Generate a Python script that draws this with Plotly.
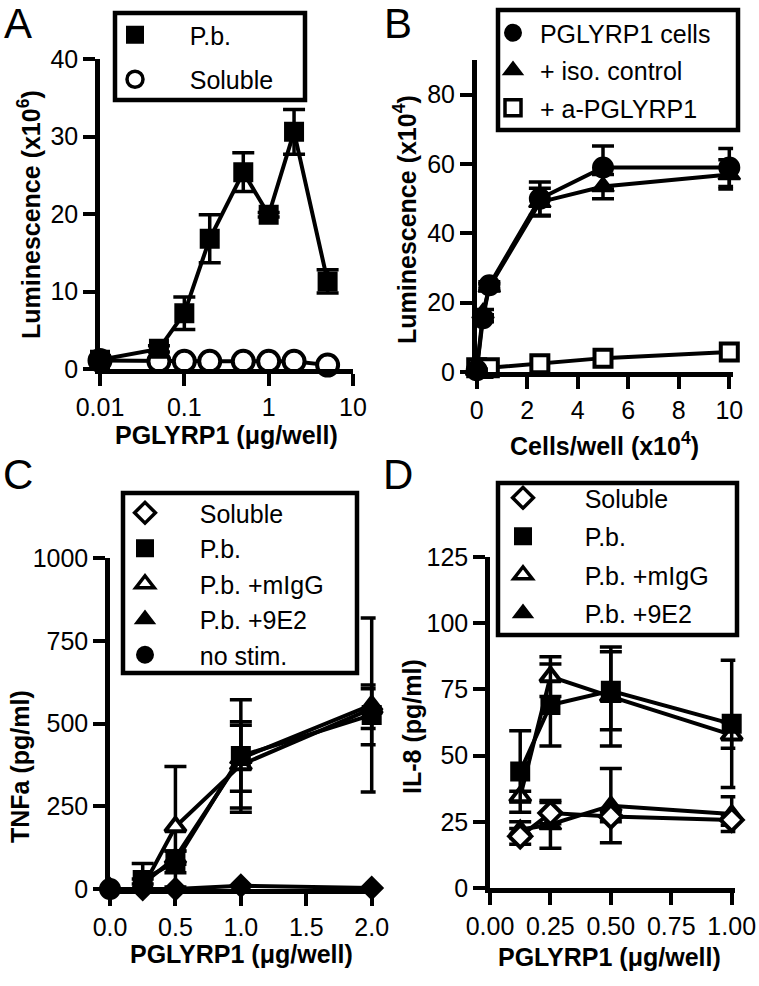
import plotly.graph_objects as go

W, H = 759, 986

# ---------------- data ----------------
# Panel A
a_x = [0.01, 0.05, 0.1, 0.2, 0.5, 1, 2, 5]
a_pb = [1.2, 2.6, 7.2, 16.8, 25.4, 19.9, 30.6, 11.3]
a_pb_err = [0.5, 0.4, 2.1, 3.1, 2.5, 0.3, 2.9, 1.5]
a_sol = [1.1, 1.0, 1.0, 1.0, 1.0, 1.0, 1.0, 0.5]

# Panel B
b_x = [0, 0.25, 0.5, 2.5, 5, 10]
b_cells = [0.5, 15.5, 25.0, 50.0, 59.0, 59.0]
b_cells_err = [0.3, 1.0, 1.0, 4.8, 6.2, 5.5]
b_iso = [0.5, 17.0, 24.5, 49.0, 53.5, 57.0]
b_iso_err = [0.3, 1.0, 1.0, 4.0, 3.5, 4.2]
b_anti = [1.2, 1.0, 1.2, 2.4, 4.0, 5.8]

# Panel C
c_x = [0, 0.25, 0.5, 1, 2]
c_sol = [0, 0, 0, 10, 3]
c_pb_x = [0.25, 0.5, 1, 2]
c_pb = [27, 82, 402, 526]
c_pb_err = [50, 33, 170, 90]
c_migg = [5, 188, 375, 545]
c_migg_err = [10, 182, 130, 60]
c_9e2 = [15, 95, 395, 556]
c_9e2_err = [15, 20, 100, 263]
c_nostim_x = [0]
c_nostim = [0]

# Panel D
d_x = [0.125, 0.25, 0.5, 1.0]
d_sol = [19.5, 28.3, 27.0, 25.7]
d_sol_err = [3, 4, 2, 2]
d_pb = [44.0, 69.1, 74.5, 62.0]
d_pb_err = [15.4, 15.5, 14.7, 24.0]
d_migg = [34.5, 79.8, 72.3, 57.8]
d_migg_err = [2.0, 7.5, 18.7, 5.0]
d_9e2 = [22.0, 24.0, 31.1, 27.9]
d_9e2_err = [3.0, 9.0, 14.0, 6.6]

FONT = "Liberation Sans, Arial, Helvetica, sans-serif"
LW = 4
NB = "\u00a0"

fig = go.Figure()


def err(arr):
    return dict(type="data", array=arr, visible=True, color="black", thickness=3.5, width=11)


def line_trace(x, y, xa, ya, symbol, size, filled, e=None):
    return go.Scatter(
        x=x, y=y, xaxis=xa, yaxis=ya, mode="lines+markers",
        line=dict(color="black", width=LW),
        marker=dict(symbol=symbol, size=size,
                    color="black" if filled else "white",
                    line=dict(color="black", width=2 if filled else 4)),
        error_y=err(e) if e is not None else None,
        cliponaxis=False, showlegend=False, hoverinfo="skip",
    )


def legend_entry(name, legend, symbol, size, filled, group=None):
    return go.Scatter(
        x=[None], y=[None], mode="markers", name=name, legend=legend,
        legendgroup=group,
        marker=dict(symbol=symbol, size=size,
                    color="black" if filled else "white",
                    line=dict(color="black", width=2 if filled else 3.5)),
        showlegend=True,
    )


# Panel A traces
fig.add_trace(line_trace(a_x, a_sol, "x", "y", "circle", 21, False))
fig.add_trace(line_trace(a_x, a_pb, "x", "y", "square", 18, True, a_pb_err))
# Panel B traces
fig.add_trace(line_trace(b_x, b_anti, "x2", "y2", "square", 17, False))
fig.add_trace(line_trace(b_x, b_iso, "x2", "y2", "triangle-up", 19, True, b_iso_err))
fig.add_trace(line_trace(b_x, b_cells, "x2", "y2", "circle", 20, True, b_cells_err))
# Panel C traces
fig.add_trace(line_trace(c_x, c_sol, "x3", "y3", "diamond", 17, True))
fig.add_trace(line_trace(c_pb_x, c_migg, "x3", "y3", "triangle-up", 18, False, c_migg_err))
fig.add_trace(line_trace(c_pb_x, c_pb, "x3", "y3", "square", 18, True, c_pb_err))
fig.add_trace(line_trace(c_pb_x, c_9e2, "x3", "y3", "triangle-up", 19, True, c_9e2_err))
fig.add_trace(line_trace(c_nostim_x, c_nostim, "x3", "y3", "circle", 20, True))
# Panel D traces
fig.add_trace(line_trace(d_x, d_9e2, "x4", "y4", "triangle-up", 19, True, d_9e2_err))
fig.add_trace(line_trace(d_x, d_sol, "x4", "y4", "diamond", 17, False, d_sol_err))
fig.add_trace(line_trace(d_x, d_migg, "x4", "y4", "triangle-up", 18, False, d_migg_err))
fig.add_trace(line_trace(d_x, d_pb, "x4", "y4", "square", 18, True, d_pb_err))

# Legends
gapA = NB * 5
fig.add_trace(legend_entry(gapA + "P.b.", "legend", "square", 16, True, "a1"))
fig.add_trace(legend_entry(gapA + "Soluble", "legend", "circle", 16, False, "a2"))

gapB = NB
fig.add_trace(legend_entry(gapB + "PGLYRP1 cells", "legend2", "circle", 16, True, "b1"))
fig.add_trace(legend_entry(gapB + "+ iso. control", "legend2", "triangle-up", 16, True, "b2"))
fig.add_trace(legend_entry(gapB + "+ a-PGLYRP1", "legend2", "square", 16, False, "b3"))

gapC = NB * 5
for nm, sym, fill in [("Soluble", "diamond", False), ("P.b.", "square", True),
                      ("P.b. +mIgG", "triangle-up", False), ("P.b. +9E2", "triangle-up", True),
                      ("no stim.", "circle", True)]:
    fig.add_trace(legend_entry(gapC + nm, "legend3", sym, 16, fill))
gapD = NB * 6
for i, (nm, sym, fill) in enumerate([("Soluble", "diamond", False), ("P.b.", "square", True),
                                     ("P.b. +mIgG", "triangle-up", False), ("P.b. +9E2", "triangle-up", True)]):
    fig.add_trace(legend_entry(gapD + nm, "legend4", sym, 16, fill, "d%d" % i))


def dom_x(a, b):
    return [a / W, b / W]


def dom_y(top, bottom):
    return [1 - bottom / H, 1 - top / H]


axis_common = dict(showline=True, linecolor="black", linewidth=4.5, ticks="outside",
                   ticklen=12, tickwidth=4, tickcolor="black", showgrid=False, zeroline=False,
                   tickfont=dict(family=FONT, size=25, color="black"), fixedrange=True,
                   automargin=False)

# small range extension on the right so edge error bars are not clipped
lay = dict(
    width=W, height=H, margin=dict(l=0, r=0, t=0, b=0, autoexpand=False),
    paper_bgcolor="white", plot_bgcolor="white",
    font=dict(family=FONT, color="black"),
    xaxis=dict(domain=dom_x(100, 353), type="log", range=[-2, 1],
               tickvals=[0.01, 0.1, 1, 10], ticktext=["0.01", "0.1", "1", "10"], anchor="y", **axis_common),
    yaxis=dict(domain=dom_y(59, 369), range=[0, 40], tickvals=[0, 10, 20, 30, 40], anchor="x", **axis_common),
    xaxis2=dict(domain=dom_x(476.7, 729.3 + 0.15 * 25.26), range=[0, 10.15], tickvals=[0, 2, 4, 6, 8, 10],
                anchor="y2", **axis_common),
    yaxis2=dict(domain=dom_y(60, 372), range=[0, 90], tickvals=[0, 20, 40, 60, 80], anchor="x2", **axis_common),
    xaxis3=dict(domain=dom_x(110, 371.7 + 0.03 * 130.85), range=[0, 2.03], tickvals=[0, 0.5, 1, 1.5, 2],
                ticktext=["0.0", "0.5", "1.0", "1.5", "2.0"], anchor="y3", **axis_common),
    yaxis3=dict(domain=dom_y(558, 889), range=[0, 1000], tickvals=[0, 250, 500, 750, 1000], anchor="x3", **axis_common),
    xaxis4=dict(domain=dom_x(490, 731.7 + 0.015 * 241.7), range=[0, 1.015], tickvals=[0, 0.25, 0.5, 0.75, 1],
                ticktext=["0.00", "0.25", "0.50", "0.75", "1.00"], anchor="y4", **axis_common),
    yaxis4=dict(domain=dom_y(557, 888), range=[0, 125], tickvals=[0, 25, 50, 75, 100, 125], anchor="x4", **axis_common),
)

leg_common = dict(font=dict(family=FONT, size=25, color="black"), bgcolor="rgba(0,0,0,0)",
                  borderwidth=0, xanchor="left", yanchor="top", itemsizing="trace",
                  xref="paper", yref="paper")
lay["legend"] = dict(x=115 / W, y=1 - 12 / H, tracegroupgap=9, traceorder="grouped", **leg_common)
lay["legend2"] = dict(x=493 / W, y=1 - 10 / H, tracegroupgap=2, traceorder="grouped", **leg_common)
lay["legend3"] = dict(x=125 / W, y=1 - 490 / H, traceorder="normal", **leg_common)
lay["legend4"] = dict(x=503 / W, y=1 - 475 / H, tracegroupgap=3, traceorder="grouped", **leg_common)

fig.update_layout(**lay)

# legend boxes
for (x0, y0, x1, y1) in [(115, 13, 305, 100), (498, 10, 738, 130), (123, 493, 357, 673), (498, 483, 737, 635)]:
    fig.add_shape(type="rect", xref="paper", yref="paper", x0=x0 / W, x1=x1 / W,
                  y0=1 - y0 / H, y1=1 - y1 / H, line=dict(color="black", width=4.5),
                  fillcolor="white", layer="above")

TITLE = dict(family=FONT, size=25, color="black", weight="bold")
ann = []
# axis titles
ann.append(dict(text="PGLYRP1 (\u03bcg/well)", x=227 / W, y=1 - 435 / H, font=TITLE))
ann.append(dict(text="Cells/well (x10<sup>4</sup>)", x=604 / W, y=1 - 444 / H, font=TITLE))
ann.append(dict(text="PGLYRP1 (\u03bcg/well)", x=242 / W, y=1 - 954 / H, font=TITLE))
ann.append(dict(text="PGLYRP1 (\u03bcg/well)", x=609 / W, y=1 - 957 / H, font=TITLE))
ann.append(dict(text="Luminescence (x10<sup>6</sup>)", x=29 / W, y=1 - 215 / H, font=TITLE, textangle=-90))
ann.append(dict(text="Luminescence (x10<sup>4</sup>)", x=405 / W, y=1 - 220 / H, font=TITLE, textangle=-90))
ann.append(dict(text="TNFa (pg/ml)", x=20 / W, y=1 - 767 / H, font=TITLE, textangle=-90))
ann.append(dict(text="IL-8 (pg/ml)", x=412 / W, y=1 - 727 / H, font=TITLE, textangle=-90))
# panel letters
LET = dict(family=FONT, size=42, color="black")
for t, px, py in [("A", 18, 24), ("B", 398, 24), ("C", 18, 474), ("D", 398, 474)]:
    ann.append(dict(text=t, x=px / W, y=1 - py / H, font=LET))
for a in ann:
    a.update(xref="paper", yref="paper", showarrow=False, xanchor="center", yanchor="middle")
fig.update_layout(annotations=ann)

fig.write_html("out.html", config={"displayModeBar": False},
               post_script="document.body.style.margin='0px';")
